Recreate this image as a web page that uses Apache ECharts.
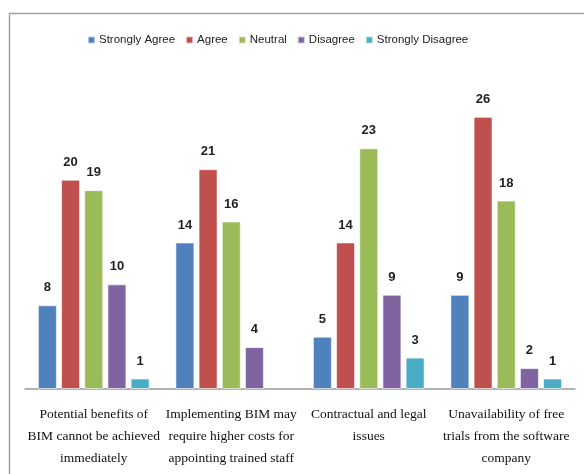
<!DOCTYPE html>
<html><head><meta charset="utf-8">
<script src="https://cdn.jsdelivr.net/npm/echarts@6/dist/echarts.min.js"></script>
<style>html,body{margin:0;padding:0;background:#fff}#c{width:584px;height:474px}</style>
</head><body><div id="c"></div>
<script>
const categories = [
  "Potential benefits of\nBIM cannot be achieved\nimmediately",
  "Implementing BIM may\nrequire higher costs for\nappointing trained staff",
  "Contractual and legal\nissues",
  "Unavailability of free\ntrials from the software\ncompany"
];
const seriesNames = ["Strongly Agree", "Agree", "Neutral", "Disagree", "Strongly Disagree"];
const stronglyAgree = [8, 14, 5, 9];
const agree = [20, 21, 14, 26];
const neutral = [19, 16, 23, 18];
const disagree = [10, 4, 9, 2];
const stronglyDisagree = [1, '-', 3, 1];
const colors = ["#4F81BD", "#C0504D", "#9BBB59", "#8064A2", "#4BACC6"];
const values = [stronglyAgree, agree, neutral, disagree, stronglyDisagree];

const chart = echarts.init(document.getElementById('c'));
const sans = "'Liberation Sans Narrow','Liberation Sans',Arial,sans-serif";
chart.setOption({
  animation: false,
  graphic: [{
    type: 'rect', shape: { x: 9.5, y: 13.5, width: 700, height: 600 },
    style: { fill: 'none', stroke: '#a0a0a0', lineWidth: 1.5 }
  }],
  legend: {
    top: 29, left: 82, itemWidth: 7, itemHeight: 7, itemGap: 10,
    icon: 'rect',
    textStyle: { fontFamily: sans, fontSize: 11.5, color: '#222', padding: [0, 0, 0, -1] },
    data: seriesNames
  },
  grid: { left: 25, right: 9, top: 75, bottom: 85 },
  xAxis: {
    type: 'category', data: categories,
    axisLine: { lineStyle: { color: '#999', width: 1.5 } },
    axisTick: { show: false },
    axisLabel: {
      interval: 0, fontFamily: "'Liberation Serif','DejaVu Serif',serif",
      fontSize: 13.5, color: '#111', lineHeight: 22, margin: 14
    }
  },
  yAxis: { type: 'value', min: 0, max: 30, show: false, splitLine: { show: false } },
  series: seriesNames.map((n, i) => ({
    name: n, type: 'bar', data: values[i],
    barWidth: 19, barGap: '22%',
    itemStyle: { color: colors[i], borderColor: 'rgba(255,255,255,0.6)', borderWidth: 1 },
    label: {
      show: true, position: 'top', distance: 11,
      fontFamily: sans, fontSize: 13, fontWeight: 'bold', color: '#222'
    }
  }))
});
</script></body></html>
